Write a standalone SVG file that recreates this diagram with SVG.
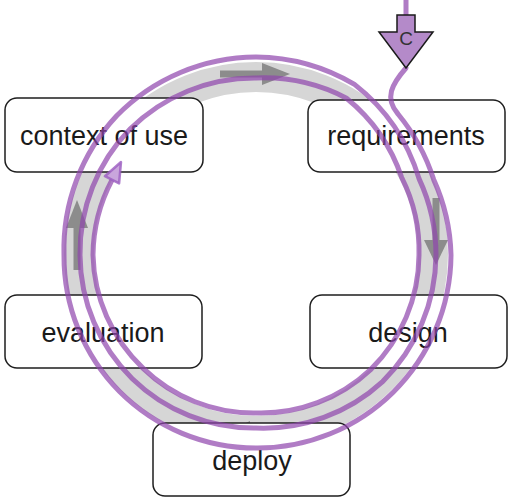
<svg xmlns="http://www.w3.org/2000/svg" width="508" height="499" viewBox="0 0 508 499">
<style>
.box{fill:#fff;stroke:#1e1e1e;stroke-width:1.5}
.lbl{font-family:"Liberation Sans",Arial,sans-serif;font-size:27px;fill:#1a1a1a;text-anchor:middle}
.garrow{fill:#8c8c8c;stroke:none}
.gshaft{stroke:#8c8c8c;stroke-width:7;fill:none}
.spiral{fill:none;stroke:#8e44ad;stroke-opacity:0.7;stroke-width:5;stroke-linecap:round;stroke-linejoin:round}
</style>
<rect width="508" height="499" fill="#fff"/>
<g id="cycle">
<circle cx="256" cy="254" r="177" fill="none" stroke="#d6d6d6" stroke-width="30"/>
<path class="gshaft" d="M220,74 H264"/>
<polygon class="garrow" points="262,63 290,74 262,85"/>
<path class="gshaft" d="M436,198 V242"/>
<polygon class="garrow" points="424,240 448,240 436,265"/>
<path class="gshaft" d="M77,270 V226"/>
<polygon class="garrow" points="66,228 88,228 77,200"/>
<path class="gshaft" d="M248,433 H290"/>
<polygon class="garrow" points="250,421 250,445 225,433"/>
</g>
<g id="context-of-use">
<rect class="box" x="5" y="98" width="198" height="74" rx="12"/>
<text class="lbl" x="104" y="145">context of use</text>
</g>
<g id="requirements">
<rect class="box" x="308" y="100" width="197" height="72" rx="12"/>
<text class="lbl" x="406" y="145">requirements</text>
</g>
<g id="design">
<rect class="box" x="310" y="295" width="197" height="73" rx="12"/>
<text class="lbl" x="408" y="342">design</text>
</g>
<g id="evaluation">
<rect class="box" x="5" y="295" width="197" height="73" rx="12"/>
<text class="lbl" x="103" y="342">evaluation</text>
</g>
<g id="deploy">
<rect class="box" x="153" y="423" width="197" height="73" rx="12"/>
<text class="lbl" x="252" y="470">deploy</text>
</g>
<g id="connectors">
<path class="spiral" d="M406,0 V20"/>
<path class="spiral" d="M406,68 C392,84 384,98 398,114
A196 196 0 0 1 433.7,179.6
A194 194 0 0 1 451,255
A195 195 0 0 1 393.2,392.2
A193 193 0 0 1 256,448
A193 193 0 0 1 119.5,391.5
A192 192 0 0 1 64,255
A195 195 0 0 1 116.7,115.7
A197 197 0 0 1 256,57
A197 197 0 0 1 354.5,84.4
A188 188 0 0 1 419.1,178.9
A180 180 0 0 1 436,255
A180 180 0 0 1 382.6,381.6
A176 176 0 0 1 256,428
A174 174 0 0 1 132.3,378.7
A175 175 0 0 1 80,255
A177 177 0 0 1 130.1,129.1
A177 177 0 0 1 256,78
A179 179 0 0 1 346.5,98.2
A173 173 0 0 1 401.7,177.5
A164 164 0 0 1 419,255
A162 162 0 0 1 370.6,369.6
A160 160 0 0 1 256,413
A159 159 0 0 1 142.9,368.1
A161 161 0 0 1 93,255
A163 163 0 0 1 112,180"/>
<polygon points="121,162 119.1,183.4 104.9,176.2" fill="#c9a6dc" stroke="#9b5cc0" stroke-opacity="0.8" stroke-width="2.5" stroke-linejoin="round"/>
</g>
<g id="c-marker">
<polygon points="397,15 415,15 415,32 433,32 406,68 379,32 397,32" fill="#b48ac9" stroke="#1a1a1a" stroke-width="1.5" stroke-linejoin="miter"/>
<text x="406" y="45" font-family="'Liberation Sans',Arial,sans-serif" font-size="19" fill="#333" text-anchor="middle">C</text>
</g>
</svg>
